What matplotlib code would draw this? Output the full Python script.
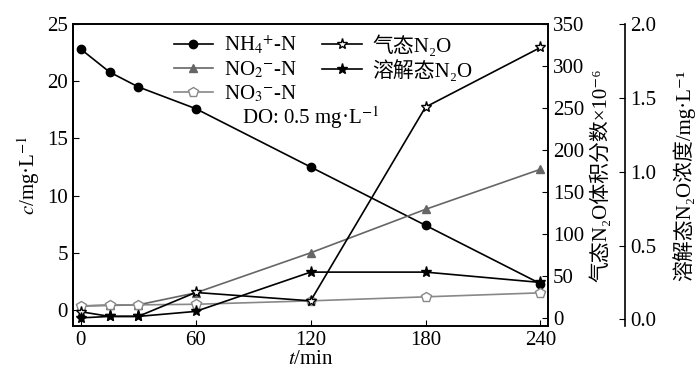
import matplotlib.pyplot as plt

plt.rcParams['font.family'] = ['Liberation Serif', 'Noto Sans CJK SC', 'DejaVu Serif']
plt.rcParams['mathtext.fontset'] = 'stix'
plt.rcParams['font.size'] = 15

# data
t = [0, 15, 30, 60, 120, 180, 240]
nh4 = [22.8, 20.8, 19.5, 17.6, 12.5, 7.4, 2.3]
no2 = [0.35, 0.4, 0.45, 1.5, 5.0, 8.8, 12.3]
no3 = [0.35, 0.45, 0.45, 0.5, 0.8, 1.15, 1.5]
gas_n2o = [7, 1.5, 1.5, 30, 20, 251, 322]
dis_n2o = [0.01, 0.02, 0.02, 0.054, 0.32, 0.32, 0.25]

fig = plt.figure(figsize=(7, 3.84), dpi=100)
ax = fig.add_axes([0.104, 0.151, 0.679, 0.7865])

l1, = ax.plot(t, nh4, color='black', lw=1.2, marker='o', ms=6,
              mfc='black', mec='black', label='NH$_4$$^{+}$-N')
l2, = ax.plot(t, no2, color='#666666', lw=1.2, marker='^', ms=6,
              mfc='#666666', mec='#666666', label='NO$_2$$^{-}$-N')
l3, = ax.plot(t, no3, color='#888888', lw=1.2, marker='p', ms=7,
              mfc='white', mec='#888888', label='NO$_3$$^{-}$-N')
ax.set_xlim(-4.2, 244)
ax.set_ylim(-1.4, 25)
ax.set_xticks([0, 60, 120, 180, 240])
ax.set_yticks([0, 5, 10, 15, 20, 25])
ax.set_xlabel('$t$/min', labelpad=0)
ax.set_ylabel('$c$/mg·L$^{-1}$', labelpad=4)
ax.tick_params(direction='in', length=4)

ax2 = ax.twinx()
l4, = ax2.plot(t, gas_n2o, color='black', lw=1.2, marker='*', ms=8,
               mfc='white', mec='black', label='气态N₂O')
ax2.set_ylim(-10, 350)
ax2.set_yticks(range(0, 351, 50))
ax2.set_ylabel('气态N₂O体积分数×10⁻⁶', labelpad=4)
ax2.tick_params(direction='in', length=4)

ax3 = ax.twinx()
ax3.spines['right'].set_position(('axes', 1.162))
ax3.spines['top'].set_visible(False)
ax3.spines['bottom'].set_visible(False)
l5, = ax3.plot(t, dis_n2o, color='black', lw=1.2, marker='*', ms=8,
               mfc='black', mec='black', label='溶解态N₂O')
ax3.set_ylim(-0.045, 2.0)
ax3.set_yticks([0.0, 0.5, 1.0, 1.5, 2.0])
ax3.set_yticklabels(['0.0', '0.5', '1.0', '1.5', '2.0'])
ax3.set_ylabel('溶解态N₂O浓度/mg·L⁻¹', labelpad=12)
ax3.tick_params(direction='in', length=4)

ax.legend(handles=[l1, l2, l3, l4, l5], ncol=2, frameon=False,
          loc='upper left', bbox_to_anchor=(0.19, 1.0), fontsize=15,
          handlelength=1.9, handletextpad=0.5, columnspacing=1.2,
          labelspacing=0.15, borderaxespad=0.1)
ax.text(0.356, 0.69, 'DO: 0.5 mg·L$^{-1}$', transform=ax.transAxes,
        fontsize=15, va='center')

for a in (ax, ax2, ax3):
    for s in a.spines.values():
        s.set_linewidth(1.2)

fig.savefig('out.png', dpi=100)
